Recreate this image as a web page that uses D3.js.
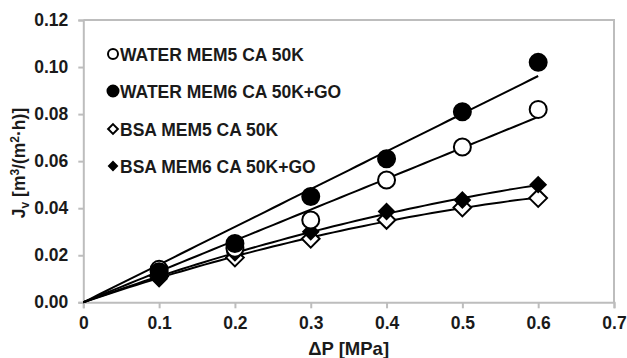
<!DOCTYPE html>
<html><head><meta charset="utf-8">
<script src="https://cdn.jsdelivr.net/npm/d3@7"></script>
<style>
body{margin:0;background:#fff;}
text{font-family:"Liberation Sans",Arial,sans-serif;font-weight:bold;fill:#1a1a1a;}
</style></head>
<body><svg id="c" width="627" height="358"></svg>
<script>
const pressure = [0.1, 0.2, 0.3, 0.4, 0.5, 0.6];
const waterMem5 = [0.014, 0.023, 0.035, 0.052, 0.066, 0.082];
const waterMem6 = [0.013, 0.025, 0.045, 0.061, 0.081, 0.102];
const bsaMem5 = [0.011, 0.019, 0.027, 0.035, 0.0403, 0.0443];
const bsaMem6 = [0.010, 0.021, 0.030, 0.0386, 0.0435, 0.050];
const seriesNames = ["WATER MEM5 CA 50K", "WATER MEM6 CA 50K+GO", "BSA MEM5 CA 50K", "BSA MEM6 CA 50K+GO"];
const xTicks = [0, 0.1, 0.2, 0.3, 0.4, 0.5, 0.6, 0.7];
const yTicks = [0, 0.02, 0.04, 0.06, 0.08, 0.10, 0.12];

const svg = d3.select("#c");
const x = d3.scaleLinear().domain([0, 0.7]).range([83.3, 614]);
const y = d3.scaleLinear().domain([0, 0.12]).range([302.3, 20]);
const axisCol = "#bdbdbd";
const FS = 17.5;

svg.append("path")
  .attr("d", `M${x(0)},${y(0.12)}H${x(0.7)}V${y(0)}`)
  .attr("fill", "none").attr("stroke", axisCol).attr("stroke-width", 2);

const xAxis = svg.append("g").attr("transform", `translate(0,${y(0)})`)
  .call(d3.axisBottom(x).tickValues(xTicks).tickSize(6).tickPadding(8)
    .tickFormat(d => d === 0 ? "0" : d3.format(".1f")(d)));
const yAxis = svg.append("g").attr("transform", `translate(${x(0)},0)`)
  .call(d3.axisLeft(y).tickValues(yTicks).tickSize(5).tickPadding(10)
    .tickFormat(d3.format(".2f")));
[xAxis, yAxis].forEach(g => {
  g.select(".domain").attr("stroke", axisCol).attr("stroke-width", 2);
  g.selectAll(".tick line").attr("stroke", axisCol).attr("stroke-width", 2);
  g.selectAll(".tick text").attr("font-size", FS).attr("fill", "#1a1a1a")
    .attr("font-family", "Liberation Sans, Arial, sans-serif").attr("font-weight", "bold");
});

svg.append("text").attr("x", x(0.35)).attr("y", 355).attr("text-anchor", "middle")
  .attr("font-size", 18.5).text("ΔP [MPa]");
const yl = svg.append("text").attr("transform", "translate(25,163) rotate(-90)")
  .attr("text-anchor", "middle").attr("font-size", FS);
yl.append("tspan").text("J");
yl.append("tspan").attr("font-size", 12).attr("dy", 4).text("v");
yl.append("tspan").attr("dy", -4).text(" [m");
yl.append("tspan").attr("font-size", 12).attr("dy", -6).text("3");
yl.append("tspan").attr("dy", 6).text("/(m");
yl.append("tspan").attr("font-size", 12).attr("dy", -6).text("2");
yl.append("tspan").attr("dy", 6).text("·h)]");

function linFit(xs, ys) {
  const sxy = d3.sum(xs, (v, i) => v * ys[i]), sxx = d3.sum(xs, v => v * v);
  const a = sxy / sxx; return t => a * t;
}
function quadFit(xs, ys) {
  const s2 = d3.sum(xs, v => v ** 2), s3 = d3.sum(xs, v => v ** 3), s4 = d3.sum(xs, v => v ** 4);
  const sxy = d3.sum(xs, (v, i) => v * ys[i]), sx2y = d3.sum(xs, (v, i) => v * v * ys[i]);
  const det = s2 * s4 - s3 * s3;
  const a = (sxy * s4 - s3 * sx2y) / det, b = (s2 * sx2y - s3 * sxy) / det;
  return t => a * t + b * t * t;
}
const fits = [linFit(pressure, waterMem5), linFit(pressure, waterMem6),
              quadFit(pressure, bsaMem5), quadFit(pressure, bsaMem6)];
const samples = d3.range(0, 61).map(i => i * 0.01);
const line = d3.line().x(d => x(d[0])).y(d => y(d[1]));
fits.forEach(f => {
  svg.append("path").attr("d", line(samples.map(t => [t, f(t)])))
    .attr("fill", "none").attr("stroke", "#000").attr("stroke-width", 2);
});

const sym = [
  {type: d3.symbolCircle, r: 8.5, fill: "#fff", data: waterMem5},
  {type: d3.symbolCircle, r: 8.5, fill: "#000", data: waterMem6},
  {type: d3.symbolDiamond2, r: 10, fill: "#fff", data: bsaMem5},
  {type: d3.symbolDiamond2, r: 8.5, fill: "#000", data: bsaMem6},
];
function symPath(s, r) {
  if (s.type === d3.symbolCircle) return d3.symbol().type(d3.symbolCircle).size(Math.PI * r * r)();
  return d3.symbol().type(d3.symbolDiamond2).size(2 * r * r)();
}
[2, 3, 0, 1].forEach(k => {
  const s = sym[k];
  svg.append("g").selectAll("path").data(s.data).join("path")
    .attr("d", symPath(s, s.r))
    .attr("transform", (d, i) => `translate(${x(pressure[i])},${y(d)})`)
    .attr("fill", s.fill).attr("stroke", "#000").attr("stroke-width", 2);
});

const legY = [54, 91, 129, 166];
const legR = [5, 5.5, 5.5, 4.5];
seriesNames.forEach((n, k) => {
  const s = sym[k];
  svg.append("path").attr("d", symPath(s, legR[k]))
    .attr("transform", `translate(113,${legY[k]})`)
    .attr("fill", s.fill).attr("stroke", "#000").attr("stroke-width", 2);
  svg.append("text").attr("x", 120).attr("y", legY[k] + 6.5).attr("font-size", FS).text(n);
});
</script></body></html>
